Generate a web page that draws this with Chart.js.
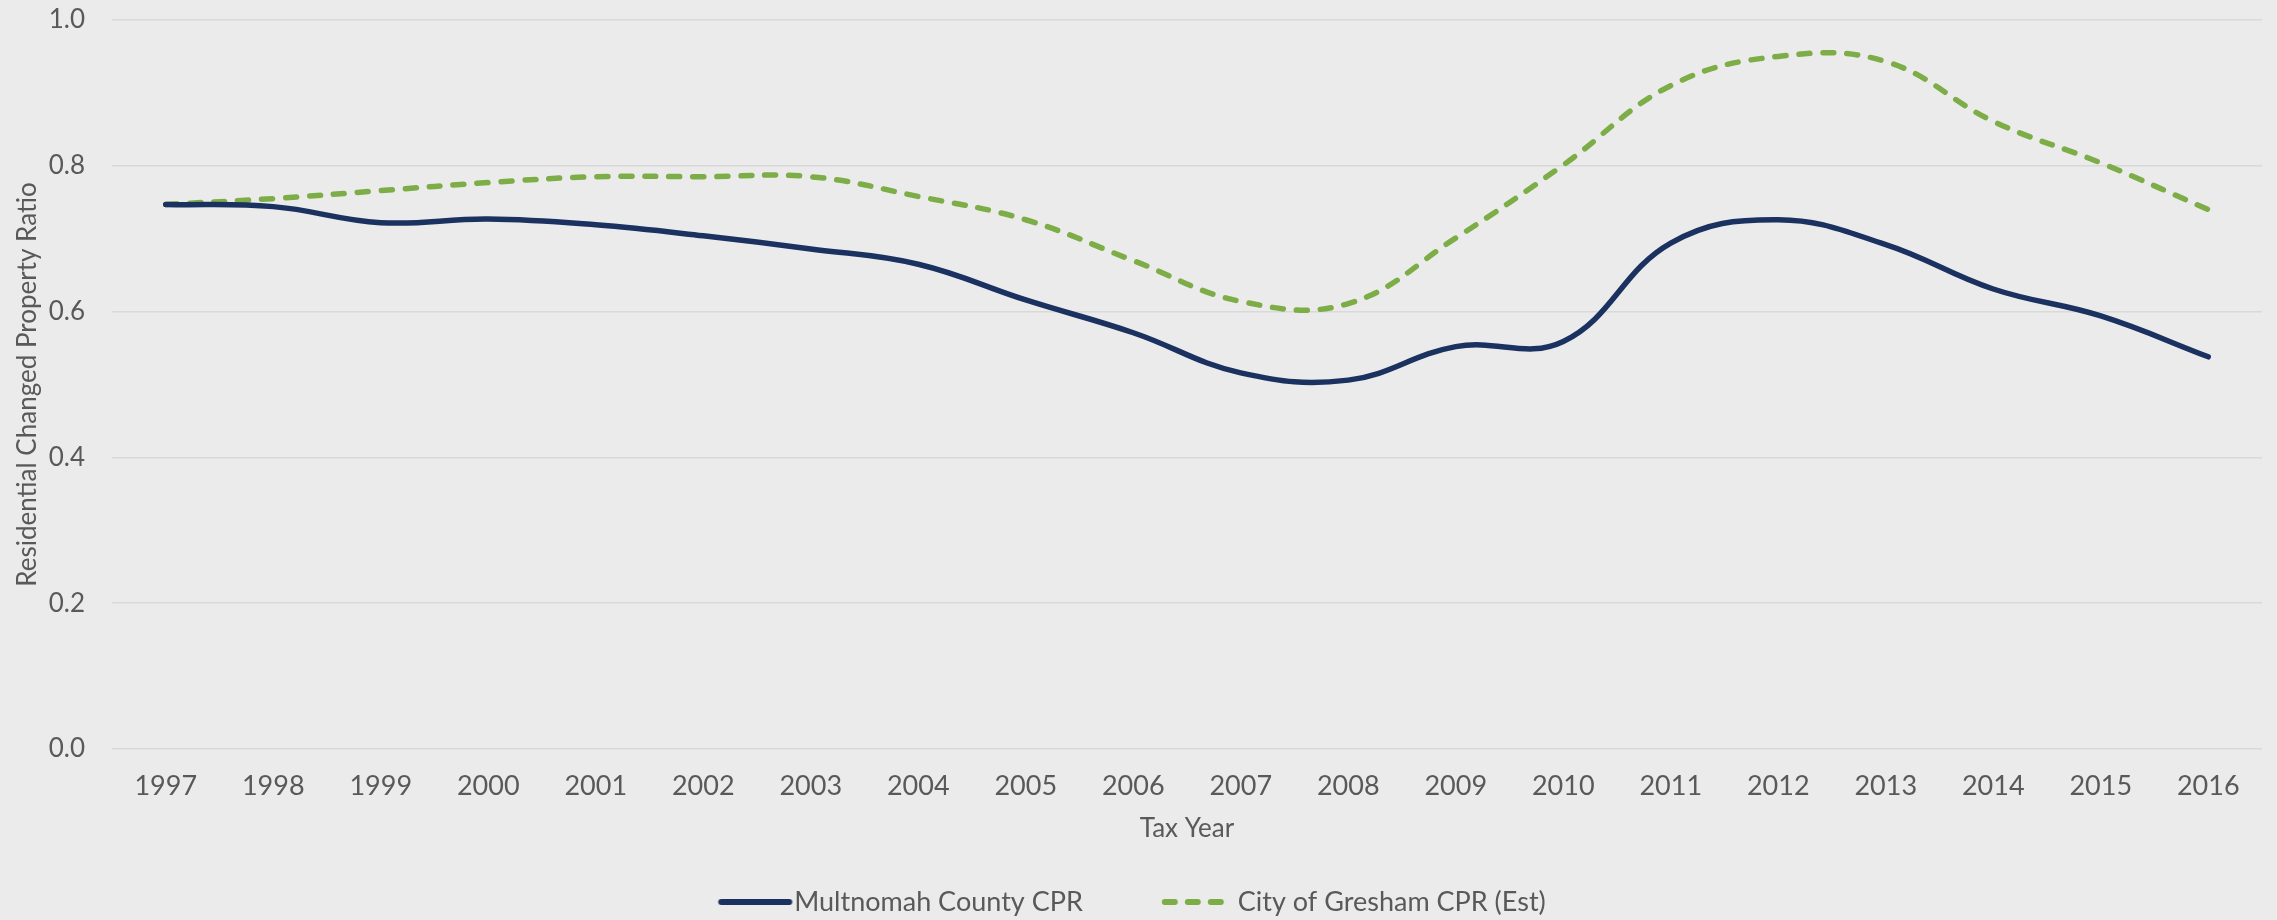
<!DOCTYPE html>
<html>
<head>
<meta charset="utf-8">
<script src="https://cdn.jsdelivr.net/npm/chart.js@4.4.1/dist/chart.umd.min.js"></script>
<style>
  html, body { margin: 0; padding: 0; background: #EBEBEB; }
  #wrap { width: 2277px; height: 920px; }
</style>
</head>
<body>
<div id="wrap"><canvas id="c" width="2277" height="920"></canvas></div>
<script>
const years = ['1997','1998','1999','2000','2001','2002','2003','2004','2005','2006','2007','2008','2009','2010','2011','2012','2013','2014','2015','2016'];
const multnomahCPR = [0.747, 0.744, 0.722, 0.727, 0.719, 0.704, 0.686, 0.665, 0.616, 0.571, 0.516, 0.506, 0.552, 0.559, 0.694, 0.726, 0.692, 0.631, 0.594, 0.538];
const greshamCPR   = [0.747, 0.755, 0.766, 0.777, 0.785, 0.785, 0.785, 0.758, 0.726, 0.670, 0.614, 0.611, 0.701, 0.801, 0.910, 0.950, 0.943, 0.861, 0.804, 0.740];
const yTickLabels = ['0.0','0.2','0.4','0.6','0.8','1.0'];
const seriesNames = ['Multnomah County CPR', 'City of Gresham CPR (Est)'];

const NAVY = '#1B3261';
const GREEN = '#7DAD46';
const TEXT = '#595959';
const FONT = "'Lato', sans-serif";
const LEG_FS = 27;
const LEG_W = 64.5;   // legend box width

// legend sample: ~72px line inside a 90px image, ending just before the label text
function legendSwatch(color, dash, width) {
  const c = document.createElement('canvas');
  c.width = 90; c.height = 12;
  const g = c.getContext('2d');
  const endRel = LEG_W / 2 + LEG_FS / 2 - 5;   // relative to image centre
  const startRel = endRel - 68;
  g.strokeStyle = color; g.lineWidth = width; g.lineCap = 'round';
  g.setLineDash(dash);
  g.beginPath(); g.moveTo(45 + startRel, 6); g.lineTo(45 + endRel, 6); g.stroke();
  return c;
}

const bgPlugin = {
  id: 'bg',
  beforeDraw(chart) {
    const ctx = chart.ctx;
    ctx.save(); ctx.fillStyle = '#EBEBEB'; ctx.fillRect(0, 0, chart.width, chart.height); ctx.restore();
  }
};

new Chart(document.getElementById('c'), {
  type: 'line',
  data: {
    labels: years,
    datasets: [
      { label: seriesNames[0], data: multnomahCPR, borderColor: NAVY, backgroundColor: NAVY, borderWidth: 5.5,
        tension: 0.4, pointRadius: 0, pointHoverRadius: 0, borderCapStyle: 'round',
        pointStyle: legendSwatch(NAVY, [], 6) },
      { label: seriesNames[1], data: greshamCPR, borderColor: GREEN, backgroundColor: GREEN, borderWidth: 5.5,
        borderDash: [11, 13], borderCapStyle: 'round', tension: 0.4, pointRadius: 0, pointHoverRadius: 0,
        pointStyle: legendSwatch(GREEN, [10, 13], 6) }
    ]
  },
  options: {
    responsive: false,
    animation: false,
    devicePixelRatio: 1,
    layout: { padding: { left: 0, right: 15, top: 20, bottom: -5.5 } },
    plugins: {
      legend: {
        position: 'bottom',
        labels: { usePointStyle: true, pointStyleWidth: LEG_W, padding: 77, color: TEXT,
          font: { family: FONT, size: LEG_FS } }
      },
      tooltip: { enabled: false }
    },
    scales: {
      x: {
        offset: true,
        afterFit(scale) { scale.height = 62.5; },
        grid: { display: false, drawTicks: false, offset: true },
        border: { display: false },
        ticks: { color: TEXT, font: { family: FONT, size: 27 }, padding: 21, maxRotation: 0, autoSkip: false },
        title: { display: true, text: 'Tax Year', color: TEXT, font: { family: FONT, size: 26 }, padding: { top: 0, bottom: -33 } }
      },
      y: {
        min: 0, max: 1,
        afterFit(scale) { scale.width = 112; scale.paddingTop = 0; scale.paddingBottom = 0; },
        grid: { color: '#D9D9D9', lineWidth: 1.5, drawTicks: false },
        border: { display: false },
        ticks: { stepSize: 0.2, color: TEXT, font: { family: FONT, size: 26 }, padding: 27,
          callback: (v) => yTickLabels[Math.round(v * 5)] },
        title: { display: true, text: 'Residential Changed Property Ratio', color: TEXT,
          font: { family: FONT, size: 26 }, padding: { top: 12, bottom: 0 } }
      }
    }
  },
  plugins: [bgPlugin]
});
</script>
</body>
</html>
